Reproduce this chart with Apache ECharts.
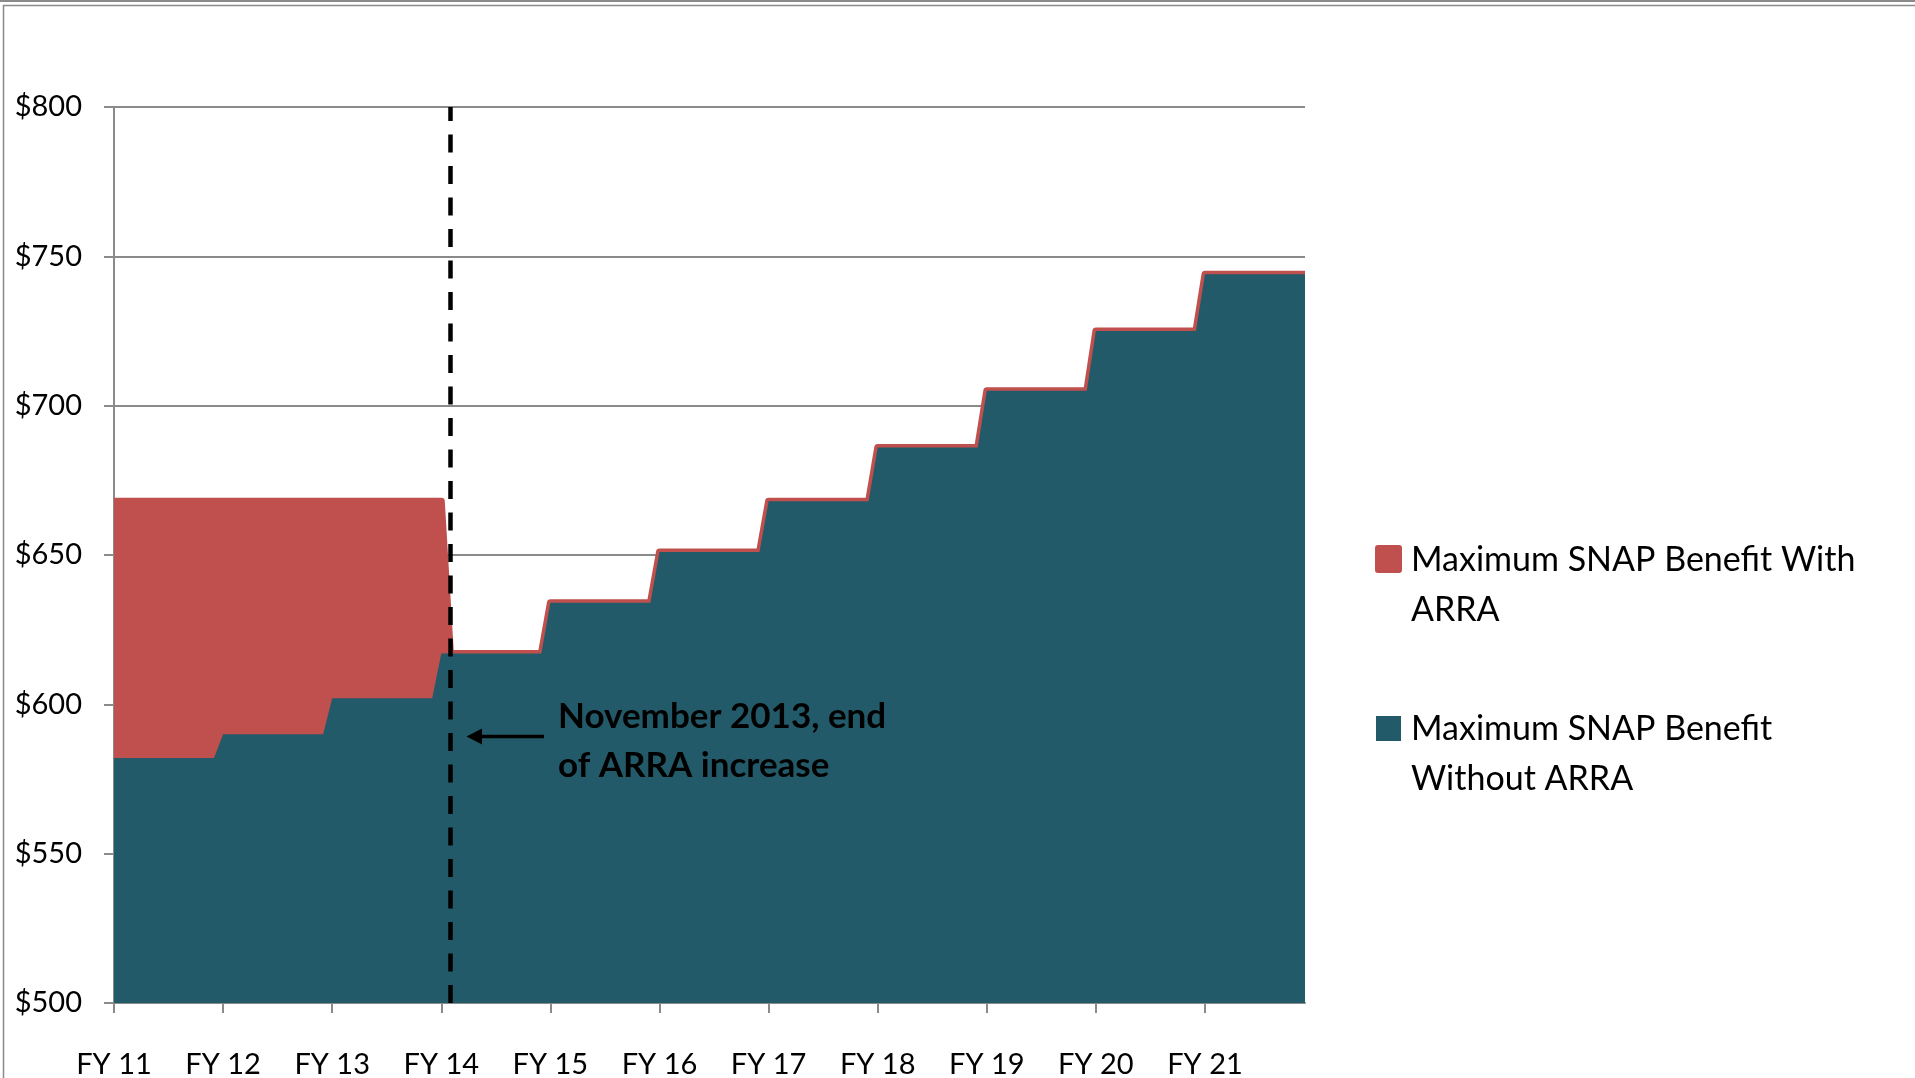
<!DOCTYPE html>
<html>
<head>
<meta charset="utf-8">
<title>Maximum SNAP Benefit</title>
<script src="https://cdn.jsdelivr.net/npm/echarts@6/dist/echarts.min.js"></script>
<style>
  html, body { margin: 0; padding: 0; background: #ffffff; }
  #chart { width: 1915px; height: 1078px; }
</style>
</head>
<body>
<div id="chart"></div>
<script>
// Fiscal years shown on the horizontal axis (each starts in October)
const fiscalYears = ['FY 11', 'FY 12', 'FY 13', 'FY 14', 'FY 15', 'FY 16', 'FY 17', 'FY 18', 'FY 19', 'FY 20', 'FY 21'];
// Maximum monthly SNAP benefit without the ARRA boost, one level per fiscal year
const benefitWithoutArra = [582, 590, 602, 617, 634, 651, 668, 686, 705, 725, 744];
// Maximum monthly benefit while the ARRA increase was in force
const benefitWithArra = 668;
// First month without the ARRA increase
const arraEndMonth = '2013-11';
const seriesNames = ['Maximum SNAP Benefit With ARRA', 'Maximum SNAP Benefit Without ARRA'];
const legendLines = [['Maximum SNAP Benefit With', 'ARRA'], ['Maximum SNAP Benefit', 'Without ARRA']];
const annotationLines = ['November 2013, end', 'of ARRA increase'];
const yRange = [500, 800, 50];

const RED = '#C0504D';
const TEAL = '#235A69';
const GREY = '#8A8A8A';

// Monthly categories, October of the first fiscal year onward
const months = [];
fiscalYears.forEach((fy, k) => {
  for (let m = 0; m < 12; m++) {
    const mm = (9 + m) % 12 + 1;
    const yy = 2010 + k + (9 + m >= 12 ? 1 : 0);
    months.push(yy + '-' + String(mm).padStart(2, '0'));
  }
});

// Benefit levels hold for a whole fiscal year
const withoutSeries = months.map((_, i) => benefitWithoutArra[Math.floor(i / 12)]);
const arraEndIndex = months.indexOf(arraEndMonth);
const withSeries = months.map((_, i) => (i < arraEndIndex ? benefitWithArra : withoutSeries[i]));

const chart = echarts.init(document.getElementById('chart'), null, { renderer: 'canvas' });

const legendGraphics = [];
const legendColors = [RED, TEAL];
const legendBoxes = [
  { x: 1375, y: 545, w: 27, h: 28, r: 3, textY: 585 },
  { x: 1376, y: 716, w: 25, h: 25, r: 0, textY: 754 }
];
legendBoxes.forEach((b, i) => {
  legendGraphics.push({
    type: 'rect',
    shape: { x: b.x, y: b.y, width: b.w, height: b.h, r: b.r },
    style: { fill: legendColors[i] }
  });
  legendGraphics.push({
    type: 'text',
    x: 1411,
    y: b.textY,
    style: {
      text: legendLines[i].join('\n'),
      font: '34px Lato',
      fill: '#000',
      lineHeight: 50,
      verticalAlign: 'middle',
      align: 'left'
    }
  });
});

const option = {
  backgroundColor: '#ffffff',
  animation: false,
  grid: {
    left: 114,
    right: 610,
    top: 107,
    bottom: 75,
    containLabel: false,
    outerBoundsMode: 'none'
  },
  xAxis: {
    type: 'category',
    data: months,
    boundaryGap: false,
    axisLine: { show: true, lineStyle: { color: GREY, width: 2 } },
    axisTick: { show: true, interval: 11, length: 10, lineStyle: { color: GREY, width: 2 } },
    axisLabel: {
      interval: 11,
      margin: 47,
      fontFamily: 'Lato',
      fontSize: 29,
      color: '#000',
      formatter: (value, index) => fiscalYears[Math.floor(index / 12)]
    },
    splitLine: { show: false }
  },
  yAxis: {
    type: 'value',
    min: yRange[0],
    max: yRange[1],
    interval: yRange[2],
    axisLine: { show: true, lineStyle: { color: GREY, width: 2 } },
    axisTick: { show: true, length: 10, lineStyle: { color: GREY, width: 2 } },
    axisLabel: {
      margin: 32,
      fontFamily: 'Lato',
      fontSize: 29,
      color: '#000',
      formatter: (v) => '$' + v
    },
    splitLine: { show: true, lineStyle: { color: GREY, width: 2 } }
  },
  series: [
    {
      name: seriesNames[0],
      type: 'line',
      data: withSeries,
      symbol: 'none',
      z: 2,
      lineStyle: { color: RED, width: 7, join: 'round' },
      areaStyle: { color: RED, opacity: 1 }
    },
    {
      name: seriesNames[1],
      type: 'line',
      data: withoutSeries,
      symbol: 'none',
      z: 3,
      lineStyle: { width: 0 },
      areaStyle: { color: TEAL, opacity: 1 }
    },
    {
      // dashed marker for the end of the ARRA increase
      name: 'ARRA end',
      type: 'line',
      data: [],
      z: 5,
      markLine: {
        silent: true,
        symbol: ['none', 'none'],
        label: { show: false },
        lineStyle: { color: '#000', width: 4.5, type: [18, 13.5] },
        data: [{ xAxis: arraEndMonth }]
      }
    }
  ],
  graphic: [
    // chart frame
    { type: 'line', shape: { x1: 0, y1: 1, x2: 1915, y2: 1 }, style: { stroke: GREY, lineWidth: 2 } },
    { type: 'rect', shape: { x: 3.5, y: 5.5, width: 2000, height: 2000 }, style: { fill: 'none', stroke: GREY, lineWidth: 1.5 } },
    // annotation arrow
    { type: 'line', z: 10, shape: { x1: 544, y1: 736.5, x2: 476, y2: 736.5 }, style: { stroke: '#000', lineWidth: 3.5 } },
    { type: 'polygon', z: 10, shape: { points: [[466.5, 736.5], [482, 728.5], [482, 744.5]] }, style: { fill: '#000' } },
    {
      type: 'text',
      z: 10,
      x: 558,
      y: 741.5,
      style: {
        text: annotationLines.join('\n'),
        font: 'bold 35px Lato',
        fill: '#000',
        lineHeight: 49,
        verticalAlign: 'middle',
        align: 'left'
      }
    }
  ].concat(legendGraphics)
};

chart.setOption(option);
</script>
</body>
</html>
